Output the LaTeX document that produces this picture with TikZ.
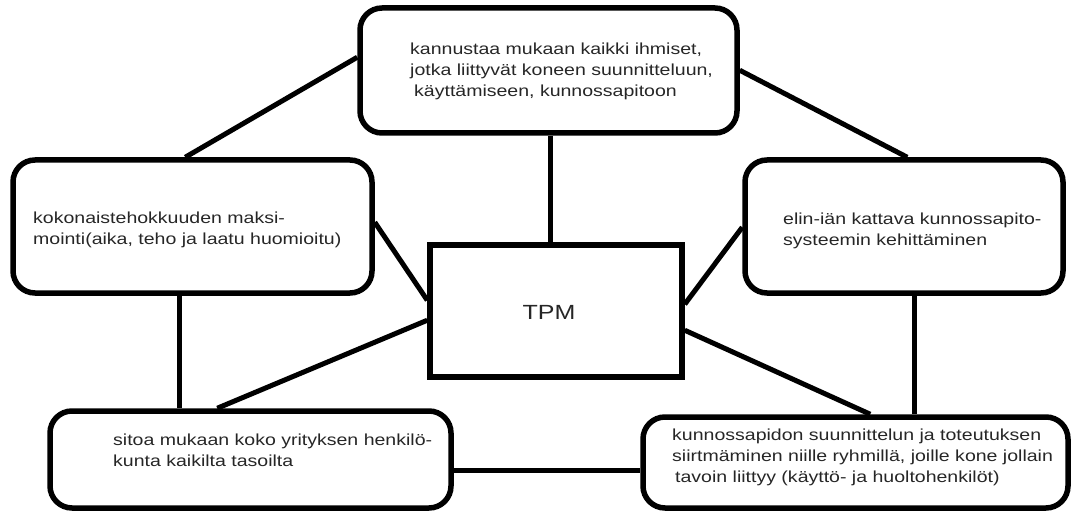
\documentclass[tikz,border=0pt]{standalone}
\usepackage{fontspec}
\usetikzlibrary{calc}
\newfontfamily\boxfont[FakeStretch=1.22]{Liberation Sans}
\newcommand{\txtlines}[1]{\begin{tabular}[t]{@{}l@{}}#1\end{tabular}}
\begin{document}
\begin{tikzpicture}[x=1pt,y=-1pt,
  roundbox/.style={draw, line width=5.5pt, rounded corners=22pt, inner sep=0pt},
  squarebox/.style={draw, line width=5.5pt, inner sep=0pt},
  boxtext/.style={anchor=base west, inner sep=0pt, text=black!85,
    font=\boxfont\fontsize{16}{21}\selectfont},
  link/.style={line width=5pt}]
\useasboundingbox (0,0) rectangle (1074,513);

% boxes
\node[roundbox, minimum width=377pt, minimum height=125pt] (top) at (548.5,70.5) {};
\node[roundbox, minimum width=359pt, minimum height=133pt] (left) at (192.5,226.5) {};
\node[roundbox, minimum width=318pt, minimum height=133pt] (right) at (904,226.5) {};
\node[squarebox, minimum width=252pt, minimum height=132pt] (tpm) at (556,311) {};
\node[roundbox, minimum width=401pt, minimum height=97pt] (bl) at (250.5,459.5) {};
\node[roundbox, minimum width=425pt, minimum height=91pt] (br) at (855.5,462.5) {};

% texts
\node[boxtext] (ttop) at (410,55) {\txtlines{kannustaa mukaan kaikki ihmiset,\\jotka liittyvät koneen suunnitteluun,\\\hspace{4pt}käyttämiseen, kunnossapitoon}};
\node[boxtext] (tleft) at (33,224) {\txtlines{kokonaistehokkuuden maksi-\\mointi(aika, teho ja laatu huomioitu)}};
\node[boxtext] (tright) at (783,225) {\txtlines{elin-iän kattava kunnossapito-\\systeemin kehittäminen}};
\node[boxtext] (tbl) at (113,445) {\txtlines{sitoa mukaan koko yrityksen henkilö-\\kunta kaikilta tasoilta}};
\node[boxtext] (tbr) at (672,440) {\txtlines{kunnossapidon suunnittelun ja toteutuksen\\siirtmäminen niille ryhmillä, joille kone jollain\\\hspace{3pt}tavoin liittyy (käyttö- ja huoltohenkilöt)}};
\node[anchor=center, inner sep=0pt, text=black!85, font=\boxfont\fontsize{20.5}{24}\selectfont] (ttpm) at (549,312) {TPM};

% connectors
\draw[link] ($(top.north west)+(0,52)$) -- ($(left.north west)+(175,0)$);
\draw[link] ($(top.north east)+(0,65)$) -- ($(right.north west)+(165,0)$);
\draw[link] ($(top.south)+(1.5,0)$) -- ($(top.south |- tpm.north)+(1.5,0)$);
\draw[link] ($(left.north east)+(0,65)$) -- ($(tpm.north west)+(0,58)$);
\draw[link] ($(right.north west)+(0,70)$) -- ($(tpm.north east)+(0,62)$);
\draw[link] ($(tpm.north west)+(0,78)$) -- ($(bl.north west)+(170,0)$);
\draw[link] ($(tpm.north east)+(0,88)$) -- ($(br.north west)+(230,0)$);
\draw[link] ($(left.south west)+(169,0)$) coordinate (lv) -- (lv |- bl.north);
\draw[link] ($(right.south west)+(172,0)$) coordinate (rv) -- (rv |- br.north);
\draw[link] ($(bl.south east)+(0,-40)$) coordinate (bh) -- (bh -| br.west);
\end{tikzpicture}
\end{document}
